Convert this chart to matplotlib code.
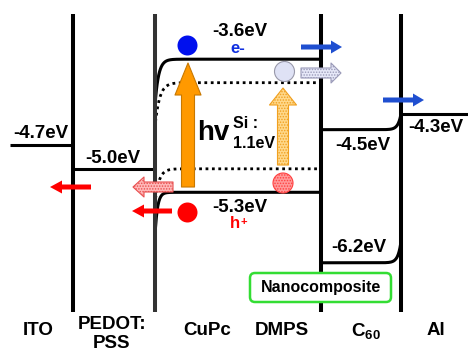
import matplotlib.pyplot as plt
import numpy as np
from matplotlib.patches import FancyBboxPatch

plt.rcParams['font.family'] = ['Liberation Sans', 'DejaVu Sans']
plt.rcParams['font.weight'] = 'bold'
plt.rcParams['mathtext.fontset'] = 'custom'
plt.rcParams['mathtext.rm'] = 'Liberation Sans:bold'
plt.rcParams['mathtext.it'] = 'Liberation Sans:bold'
plt.rcParams['mathtext.bf'] = 'Liberation Sans:bold'
plt.rcParams['hatch.linewidth'] = 0.7

# layers and energy levels (eV)
layers = ['ITO', 'PEDOT:\nPSS', 'CuPc', 'DMPS', 'C$_{60}$', 'Al']
layer_x = [38, 112, 207, 282, 366, 436]
edges = [10, 73, 155, 321, 401, 468]

ito = -4.7
pedot = -5.0
cupc_lumo, cupc_homo = -3.6, -5.3
si_cb, si_vb = -3.9, -5.0
c60_lumo, c60_homo = -4.5, -6.2
al = -4.3

# vertical scale of the picture
px_per_ev = 78.3
e_top = -2.844
e_bot = e_top - 352 / px_per_ev


def ev(px):
    return e_top - px / px_per_ev


fig = plt.figure(figsize=(4.68, 3.52), dpi=100)
ax = fig.add_axes([0, 0, 1, 1])
ax.set_xlim(0, 468)
ax.set_ylim(e_bot, e_top)
ax.axis('off')

lw = 2.2
# interfaces
ax.vlines(edges[1:5], ev(14), ev(312), colors=['k', '#333333', 'k', 'k'], lw=2.9, zorder=3)

# flat levels
ax.hlines(ito, edges[0], edges[1], colors='k', lw=lw)
ax.hlines(pedot, edges[1], edges[2], colors='k', lw=lw)
ax.hlines(al, edges[4], edges[5], colors='k', lw=lw)

# CuPc levels bending at the PEDOT side
x = np.linspace(155.5, edges[3], 400)
ax.plot(x, cupc_lumo - 0.51 * np.exp(-(x - 155.5) / 3.5), 'k', lw=lw)
ax.plot(x, cupc_homo - 0.45 * np.exp(-(x - 155.5) / 2.5), 'k', lw=lw)
xs = np.linspace(155.5, 317, 400)
ax.plot(xs, si_cb - 0.5 * np.exp(-(xs - 155.5) / 4.5), 'k', lw=2, ls=(0, (1, 1.3)))
ax.plot(xs, si_vb - 0.38 * np.exp(-(xs - 155.5) / 4.0), 'k', lw=2, ls=(0, (1, 1.3)))

# C60 levels bending at the Al side
xc = np.linspace(edges[3], edges[4], 300)
ax.plot(xc, c60_lumo + (al - c60_lumo) * np.exp((xc - 401) / 3.0), 'k', lw=lw)
ax.plot(xc, c60_homo + 0.27 * np.exp((xc - 401) / 3.0), 'k', lw=lw)

# energy labels
fs = 13.5
ax.text(40.5, ito + 0.15, '%.1feV' % ito, fontsize=fs, ha='center', va='center')
ax.text(113, pedot + 0.13, '%.1feV' % pedot, fontsize=fs, ha='center', va='center')
ax.text(240, cupc_lumo + 0.35, '%.1feV' % cupc_lumo, fontsize=fs, ha='center', va='center')
ax.text(240, cupc_homo - 0.19, '%.1feV' % cupc_homo, fontsize=fs, ha='center', va='center')
ax.text(363, c60_lumo - 0.2, '%.1feV' % c60_lumo, fontsize=fs, ha='center', va='center')
ax.text(435.5, al - 0.17, '%.1feV' % al, fontsize=fs, ha='center', va='center')
ax.text(359, c60_homo + 0.2, '%.1feV' % c60_homo, fontsize=fs, ha='center', va='center')

ax.text(238, ev(48.5), 'e-', fontsize=12, color='#1030e0', ha='center', va='center')
ax.text(235, ev(223.5), 'h', fontsize=12, color='#ff0000', ha='center', va='center')
ax.text(244, ev(222), '+', fontsize=8, color='#ff0000', ha='center', va='center')
ax.text(213, ev(133), 'hv', fontsize=20, ha='center', va='center')
ax.text(233, ev(123), 'Si :', fontsize=11.5, ha='left', va='center')
ax.text(233, ev(143), '%.1feV' % (si_cb - si_vb), fontsize=11.5, ha='left', va='center')


def arrow(tail, tip, tw, hw, hl, fc, ec, hatch=None, alw=0.8):
    k = 0.72  # px -> pt
    style = 'simple,head_length=%g,head_width=%g,tail_width=%g' % (hl * k, hw * k, tw * k)
    ax.annotate('', xy=(tip[0], ev(tip[1])), xytext=(tail[0], ev(tail[1])),
                arrowprops=dict(arrowstyle=style, fc=fc, ec=ec, lw=alw, hatch=hatch,
                                shrinkA=0, shrinkB=0, mutation_scale=1),
                zorder=6)


# photo-excitation arrows
arrow((188, 187), (188, 63), 13, 26, 32, '#ff9900', '#c87800')
arrow((283, 165), (283, 88), 11, 27, 17, '#ffd88a', '#f0a020', hatch='......')
# charge transfer arrows
arrow((301, 73), (341, 73), 10, 20, 10, '#e6e8f8', '#9a9ab8', hatch='......')
arrow((173, 187), (133, 187), 10, 20, 11, '#ffb8b8', '#e85050', hatch='......')
arrow((301, 47), (342, 47), 5, 13, 11, '#1f4fd0', '#1f4fd0', alw=0)
arrow((383, 100), (424, 100), 5, 13, 11, '#1f4fd0', '#1f4fd0', alw=0)
arrow((172, 211), (132, 211), 5, 13, 12, '#ff0000', '#ff0000', alw=0)
arrow((91, 187), (50, 187), 5, 13, 12, '#ff0000', '#ff0000', alw=0)

# carriers
s = (20 * 0.72) ** 2
ax.scatter([187], [ev(45)], s=s, c='#0010ee', zorder=7, lw=0)
ax.scatter([187], [ev(212)], s=s, c='#ff0000', zorder=7, lw=0)
ax.scatter([284], [ev(71)], s=s, facecolor='#dfe2f5', edgecolor='#9999aa', lw=0.8, zorder=7)
ax.scatter([283], [ev(183)], s=s, facecolor='#ff9a9a', edgecolor='#ff4040', lw=0.8,
           hatch='......', zorder=7)

# nanocomposite box
box = FancyBboxPatch((250, ev(302)), 141, 29 / px_per_ev,
                     boxstyle='round,pad=0,rounding_size=5', mutation_aspect=1 / px_per_ev,
                     ec='#33dd33', fc='white', lw=1.8, zorder=8)
ax.add_patch(box)
ax.text(320.5, ev(287), 'Nanocomposite', fontsize=11.5, ha='center', va='center', zorder=9)

# layer names
for name, lx in zip(layers, layer_x):
    ly = ev(334) if '\n' in name else ev(331)
    ax.text(lx, ly, name, fontsize=fs, ha='center', va='center', linespacing=1.17)

fig.savefig('out.png', dpi=100)
